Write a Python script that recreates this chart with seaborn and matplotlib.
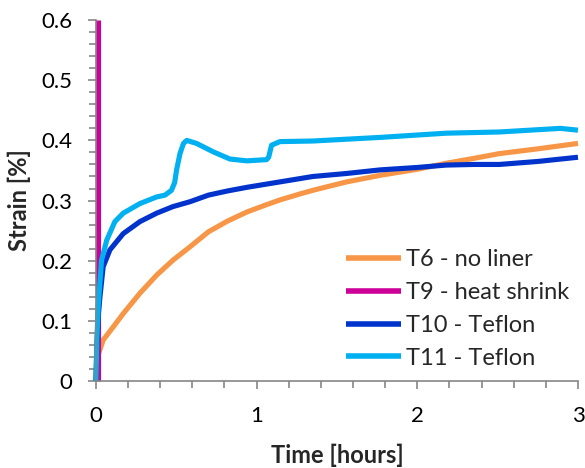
import matplotlib
matplotlib.use("Agg")
import matplotlib.pyplot as plt
import seaborn as sns
import pandas as pd
from matplotlib.ticker import MultipleLocator

sns.set_theme(style="white")
plt.rcParams['font.family'] = ['Lato', 'DejaVu Sans']

labels = ["T6 - no liner", "T9 - heat shrink", "T10 - Teflon", "T11 - Teflon"]
colors = ["#F79646", "#CC0099", "#0033CC", "#00B0F0"]

t6_x = [0, 0.008, 0.025, 0.045, 0.108, 0.17, 0.274, 0.378, 0.48, 0.585, 0.70, 0.82, 0.94, 1.05, 1.145,
        1.27, 1.35, 1.56, 1.77, 2.0, 2.18, 2.35, 2.51, 2.75, 3.0]
t6_y = [0, 0.04, 0.052, 0.068, 0.09, 0.112, 0.146, 0.176, 0.201, 0.223, 0.248, 0.266, 0.281, 0.292, 0.301,
        0.311, 0.317, 0.331, 0.342, 0.352, 0.362, 0.370, 0.378, 0.386, 0.395]

t9_x = [0.012, 0.012]
t9_y = [0.0, 0.6]

t10_x = [0, 0.006, 0.015, 0.025, 0.045, 0.087, 0.17, 0.274, 0.378, 0.48, 0.585, 0.70, 0.82, 0.94, 1.145,
         1.35, 1.56, 1.77, 2.0, 2.18, 2.35, 2.51, 2.75, 3.0]
t10_y = [0, 0.06, 0.11, 0.14, 0.19, 0.218, 0.245, 0.265, 0.279, 0.290, 0.298, 0.309, 0.316, 0.322, 0.331,
         0.340, 0.345, 0.351, 0.355, 0.359, 0.360, 0.360, 0.365, 0.372]

t11_x = [0, 0.006, 0.014, 0.035, 0.067, 0.118, 0.17, 0.274, 0.378, 0.43, 0.47, 0.49, 0.502, 0.523, 0.545,
         0.565, 0.626, 0.73, 0.834, 0.94, 1.062, 1.075, 1.093, 1.145, 1.35, 1.56, 1.77, 2.18, 2.51, 2.89, 3.0]
t11_y = [0, 0.07, 0.123, 0.201, 0.234, 0.265, 0.279, 0.295, 0.306, 0.309, 0.317, 0.330, 0.351, 0.378, 0.395,
         0.40, 0.395, 0.381, 0.369, 0.366, 0.368, 0.372, 0.392, 0.398, 0.399, 0.402, 0.405, 0.412, 0.414, 0.42, 0.417]

series = [(t6_x, t6_y), (t9_x, t9_y), (t10_x, t10_y), (t11_x, t11_y)]
frames = []
for lab, (xs, ys) in zip(labels, series):
    frames.append(pd.DataFrame({"Time": xs, "Strain": ys, "Series": lab}))
df = pd.concat(frames, ignore_index=True)

fig = plt.figure(figsize=(5.85, 4.68), dpi=100)
ax = fig.add_axes([0.164, 0.186, 0.824, 0.771])

sns.lineplot(data=df, x="Time", y="Strain", hue="Series", hue_order=labels,
             palette=dict(zip(labels, colors)), estimator=None, sort=False,
             linewidth=3.7, ax=ax, clip_on=False)
for ln in ax.lines:
    ln.set_solid_capstyle('butt')
    ln.set_solid_joinstyle('round')

ax.set_xlim(0, 3)
ax.set_ylim(0, 0.6)
ax.xaxis.set_major_locator(MultipleLocator(1))
ax.xaxis.set_minor_locator(MultipleLocator(0.2))
ax.yaxis.set_major_locator(MultipleLocator(0.1))
ax.yaxis.set_minor_locator(MultipleLocator(0.02))
ax.set_yticks(ax.get_yticks())
ax.set_yticklabels(["0" if abs(v) < 1e-9 else f"{v:.1f}" for v in ax.get_yticks()])
ax.set_ylim(0, 0.6)

grey = "#868686"
for s in ["top", "right"]:
    ax.spines[s].set_visible(False)
for s in ["left", "bottom"]:
    ax.spines[s].set_color(grey)
    ax.spines[s].set_linewidth(1.2)

ax.tick_params(axis="both", which="major", direction="out", length=6, width=1.2,
               color=grey, labelsize=16, labelcolor="black", left=True, bottom=True)
ax.tick_params(axis="both", which="minor", direction="out", length=5, width=1.2,
               color=grey, left=True, bottom=True)
ax.tick_params(axis="y", which="major", pad=11)
ax.tick_params(axis="x", which="major", pad=12)

ax.set_xlabel("Time [hours]", fontsize=17, fontweight="bold", labelpad=13)
ax.set_ylabel("Strain [%]", fontsize=17, fontweight="bold", labelpad=7)

leg = ax.legend(loc="lower right", bbox_to_anchor=(1.025, -0.025), frameon=False,
                fontsize=17, handlelength=2.33, handletextpad=0.2, labelspacing=0.5)
for h in leg.get_lines():
    h.set_linewidth(4)

fig.savefig("out.png", dpi=100)
